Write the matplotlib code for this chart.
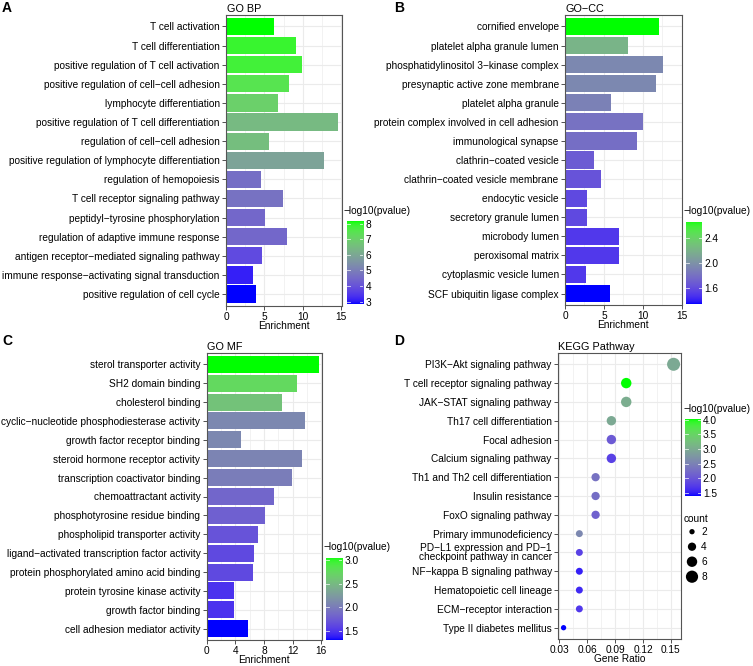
import numpy as np
import matplotlib
matplotlib.use("Agg")
import matplotlib.pyplot as plt
from matplotlib.colors import ListedColormap, Normalize

plt.rcParams['font.family'] = ['Liberation Sans', 'DejaVu Sans']

# ---------------- DATA ----------------
bp_terms = ["T cell activation", "T cell differentiation", "positive regulation of T cell activation",
            "positive regulation of cell\u2212cell adhesion", "lymphocyte differentiation",
            "positive regulation of T cell differentiation", "regulation of cell\u2212cell adhesion",
            "positive regulation of lymphocyte differentiation", "regulation of hemopoiesis",
            "T cell receptor signaling pathway", "peptidyl\u2212tyrosine phosphorylation",
            "regulation of adaptive immune response", "antigen receptor\u2212mediated signaling pathway",
            "immune response\u2212activating signal transduction", "positive regulation of cell cycle"]
bp_enrich = [6.3, 9.1, 9.85, 8.2, 6.75, 14.6, 5.65, 12.8, 4.6, 7.45, 5.1, 7.95, 4.7, 3.55, 3.85]
bp_logp = [8.17, 7.9, 7.8, 7.5, 7.0, 6.45, 6.55, 5.9, 4.6, 4.7, 4.45, 4.45, 3.8, 3.1, 2.84]

cc_terms = ["cornified envelope", "platelet alpha granule lumen", "phosphatidylinositol 3\u2212kinase complex",
            "presynaptic active zone membrane", "platelet alpha granule",
            "protein complex involved in cell adhesion", "immunological synapse", "clathrin\u2212coated vesicle",
            "clathrin\u2212coated vesicle membrane", "endocytic vesicle", "secretory granule lumen",
            "microbody lumen", "peroxisomal matrix", "cytoplasmic vesicle lumen", "SCF ubiquitin ligase complex"]
cc_enrich = [12.1, 8.15, 12.55, 11.7, 5.95, 10.05, 9.3, 3.75, 4.6, 2.85, 2.8, 6.95, 6.95, 2.75, 5.75]
cc_logp = [2.67, 2.2, 1.93, 1.93, 1.89, 1.8, 1.77, 1.67, 1.62, 1.57, 1.57, 1.49, 1.49, 1.49, 1.33]

mf_terms = ["sterol transporter activity", "SH2 domain binding", "cholesterol binding",
            "cyclic\u2212nucleotide phosphodiesterase activity", "growth factor receptor binding",
            "steroid hormone receptor activity", "transcription coactivator binding", "chemoattractant activity",
            "phosphotyrosine residue binding", "phospholipid transporter activity",
            "ligand\u2212activated transcription factor activity", "protein phosphorylated amino acid binding",
            "protein tyrosine kinase activity", "growth factor binding", "cell adhesion mediator activity"]
mf_enrich = [15.7, 12.6, 10.55, 13.75, 4.85, 13.3, 11.9, 9.35, 8.15, 7.15, 6.6, 6.45, 3.8, 3.8, 5.7]
mf_logp = [3.05, 2.74, 2.56, 2.09, 2.09, 2.06, 2.01, 1.83, 1.78, 1.69, 1.62, 1.62, 1.48, 1.48, 1.31]

kegg_terms = ["PI3K\u2212Akt signaling pathway", "T cell receptor signaling pathway", "JAK\u2212STAT signaling pathway",
              "Th17 cell differentiation", "Focal adhesion", "Calcium signaling pathway",
              "Th1 and Th2 cell differentiation", "Insulin resistance", "FoxO signaling pathway",
              "Primary immunodeficiency", "PD\u2212L1 expression and PD\u22121\ncheckpoint pathway in cancer",
              "NF\u2212kappa B signaling pathway", "Hematopoietic cell lineage", "ECM\u2212receptor interaction",
              "Type II diabetes mellitus"]
kegg_ratio = [0.153, 0.102, 0.102, 0.086, 0.086, 0.086, 0.069, 0.069, 0.069, 0.0515, 0.0515, 0.0515, 0.0515, 0.0515, 0.0345]
kegg_count = [9, 6, 6, 5, 5, 5, 4, 4, 4, 3, 3, 3, 3, 3, 2]
kegg_logp = [2.98, 4.02, 3.03, 2.98, 2.06, 1.8, 2.32, 2.27, 2.14, 2.58, 1.8, 1.54, 1.6, 1.72, 1.41]

count_legend = [2, 4, 6, 8]

# ---------------- helpers ----------------
W, H = 753, 666
DPI = 100
fig = plt.figure(figsize=(W / DPI, H / DPI), dpi=DPI)


def rect(l, t, r, b):
    return [l / W, 1 - b / H, (r - l) / W, (b - t) / H]


def ftext(x, y, s, **kw):
    fig.text(x / W, 1 - y / H, s, **kw)


# Lab interpolation (like ggplot's gradient)
WHITE = np.array([0.95047, 1.0, 1.08883])
M = np.array([[0.4124564, 0.3575761, 0.1804375],
              [0.2126729, 0.7151522, 0.0721750],
              [0.0193339, 0.1191920, 0.9503041]])
Minv = np.linalg.inv(M)


def rgb2lab(rgb):
    c = np.asarray(rgb, float)
    lin = np.where(c <= 0.04045, c / 12.92, ((c + 0.055) / 1.055) ** 2.4)
    xyz = M @ lin / WHITE
    d = 6 / 29
    f = np.where(xyz > d ** 3, np.cbrt(xyz), xyz / (3 * d * d) + 4 / 29)
    return np.array([116 * f[1] - 16, 500 * (f[0] - f[1]), 200 * (f[1] - f[2])])


def lab2rgb(lab):
    L, a, b = lab
    fy = (L + 16) / 116
    fx = fy + a / 500
    fz = fy - b / 200
    d = 6 / 29
    f = np.array([fx, fy, fz])
    xyz = np.where(f > d, f ** 3, 3 * d * d * (f - 4 / 29)) * WHITE
    lin = Minv @ xyz
    lin = np.clip(lin, 0, 1)
    c = np.where(lin <= 0.0031308, 12.92 * lin, 1.055 * lin ** (1 / 2.4) - 0.055)
    return np.clip(c, 0, 1)


lab_lo = rgb2lab([0, 0, 1])
lab_hi = rgb2lab([0, 1, 0])
cmap = ListedColormap([lab2rgb(lab_lo + t * (lab_hi - lab_lo)) for t in np.linspace(0, 1, 256)])

FS = 7.3
GRID = '#EBEBEB'
BORDER = '#555555'
XLPAD = -0.6


def style_axes(ax):
    ax.set_facecolor('white')
    for sp in ax.spines.values():
        sp.set_color(BORDER)
        sp.set_linewidth(0.8)
    ax.tick_params(axis='both', labelsize=FS, length=3, width=0.6, color='#333333',
                   pad=1.5, labelcolor='black')
    ax.set_axisbelow(True)
    ax.grid(True, which='major', color=GRID, lw=0.8)
    ax.grid(True, which='minor', axis='x', color=GRID, lw=0.45)
    ax.tick_params(axis='x', which='minor', length=0)


def colorbar(rect_px, vmin, vmax, ticks, ticklabels, title_xy):
    cax = fig.add_axes(rect(*rect_px))
    grad = np.linspace(vmin, vmax, 256).reshape(-1, 1)
    cax.imshow(grad, aspect='auto', cmap=cmap, origin='lower', extent=[0, 1, vmin, vmax],
               vmin=vmin, vmax=vmax)
    for t in ticks:
        cax.plot([0, 0.2], [t, t], color='white', lw=0.6, alpha=0.8)
        cax.plot([0.8, 1], [t, t], color='white', lw=0.6, alpha=0.8)
    cax.set_xlim(0, 1)
    cax.set_ylim(vmin, vmax)
    cax.set_xticks([])
    cax.yaxis.tick_right()
    cax.set_yticks(ticks)
    cax.set_yticklabels(ticklabels)
    cax.tick_params(axis='y', length=0, pad=1.5, labelsize=FS)
    for sp in cax.spines.values():
        sp.set_visible(False)
    ftext(title_xy[0], title_xy[1], "\u2212log10(pvalue)", fontsize=FS, ha='left', va='center')


def bar_panel(rect_px, terms, enrich, logp, xlim, xticks, minor, title, title_xy):
    ax = fig.add_axes(rect(*rect_px))
    style_axes(ax)
    n = len(terms)
    ypos = np.arange(n, 0, -1)
    norm = Normalize(min(logp), max(logp))
    ax.barh(ypos, enrich, height=0.9, color=cmap(norm(np.array(logp))), edgecolor='none', zorder=2)
    ax.set_ylim(0.4, n + 0.6)
    ax.set_xlim(*xlim)
    ax.set_yticks(ypos)
    ax.set_yticklabels(terms)
    ax.set_xticks(xticks)
    ax.set_xticks(minor, minor=True)
    ax.set_xlabel("Enrichment", fontsize=FS, labelpad=XLPAD)
    ftext(title_xy[0], title_xy[1], title, fontsize=FS + 0.5, ha='left', va='center')
    return ax


# ---------------- Panel A ----------------
bar_panel((226, 15, 342, 305.5), bp_terms, bp_enrich, bp_logp, (0, 15.1), [0, 5, 10, 15],
          [2.5, 7.5, 12.5], "GO BP", (227, 9))
colorbar((346.5, 221, 363.5, 304), min(bp_logp), max(bp_logp), [3, 4, 5, 6, 7, 8],
         ["3", "4", "5", "6", "7", "8"], (343, 211))

# ---------------- Panel B ----------------
bar_panel((565, 15, 681.7, 305), cc_terms, cc_enrich, cc_logp, (0, 15), [0, 5, 10, 15],
          [2.5, 7.5, 12.5], "GO\u2212CC", (566, 9))
colorbar((686, 221.5, 702, 304.3), min(cc_logp), max(cc_logp), [1.6, 2.0, 2.4],
         ["1.6", "2.0", "2.4"], (684, 211))

# ---------------- Panel C ----------------
bar_panel((206.7, 353, 321.7, 640), mf_terms, mf_enrich, mf_logp, (0, 16.06), [0, 4, 8, 12, 16],
          [2, 6, 10, 14], "GO MF", (207.5, 346.5))
colorbar((326, 557.7, 342.3, 640), min(mf_logp), max(mf_logp), [1.5, 2.0, 2.5, 3.0],
         ["1.5", "2.0", "2.5", "3.0"], (323, 547))

# ---------------- Panel D ----------------
def dot_size(c):
    d_px = np.sqrt(np.maximum(-12 + 20.1 * np.asarray(c, float), 4))
    return (d_px * 72 / DPI) ** 2


axd = fig.add_axes(rect(558, 353, 681, 639))
style_axes(axd)
n = len(kegg_terms)
ypos = np.arange(n, 0, -1)
normd = Normalize(min(kegg_logp), max(kegg_logp))
axd.scatter(kegg_ratio, ypos, s=dot_size(kegg_count), c=cmap(normd(np.array(kegg_logp))),
            edgecolors='none', zorder=3)
axd.set_ylim(0.4, n + 0.6)
axd.set_xlim(0.0285, 0.161)
axd.set_yticks(ypos)
axd.set_yticklabels(kegg_terms, linespacing=0.85)
axd.set_xticks([0.03, 0.06, 0.09, 0.12, 0.15])
axd.set_xticklabels(["0.03", "0.06", "0.09", "0.12", "0.15"])
axd.set_xticks([0.045, 0.075, 0.105, 0.135], minor=True)
axd.set_xlabel("Gene Ratio", fontsize=FS, labelpad=XLPAD)
ftext(557.5, 347, "KEGG Pathway", fontsize=FS + 0.5, ha='left', va='center')

colorbar((685, 419.3, 700.7, 495.5), min(kegg_logp), max(kegg_logp), [1.5, 2.0, 2.5, 3.0, 3.5, 4.0],
         ["1.5", "2.0", "2.5", "3.0", "3.5", "4.0"], (683, 408.5))

# count legend
lax = fig.add_axes([0, 0, 1, 1])
lax.set_xlim(0, W)
lax.set_ylim(H, 0)
lax.axis('off')
ftext(684, 519, "count", fontsize=FS, ha='left', va='center')
leg_y = [531.7, 546.7, 561.7, 576.7]
lax.scatter([692] * len(count_legend), leg_y, s=dot_size(count_legend), c='black', edgecolors='none')
for yy, c in zip(leg_y, count_legend):
    ftext(701, yy, str(c), fontsize=FS, ha='left', va='center')

# panel letters
for (x, y, s) in [(2, 8, "A"), (394, 8, "B"), (2, 341, "C"), (394, 341, "D")]:
    ftext(x, y, s, fontsize=10, fontweight='bold', ha='left', va='center')

fig.savefig("out.png", dpi=DPI)
